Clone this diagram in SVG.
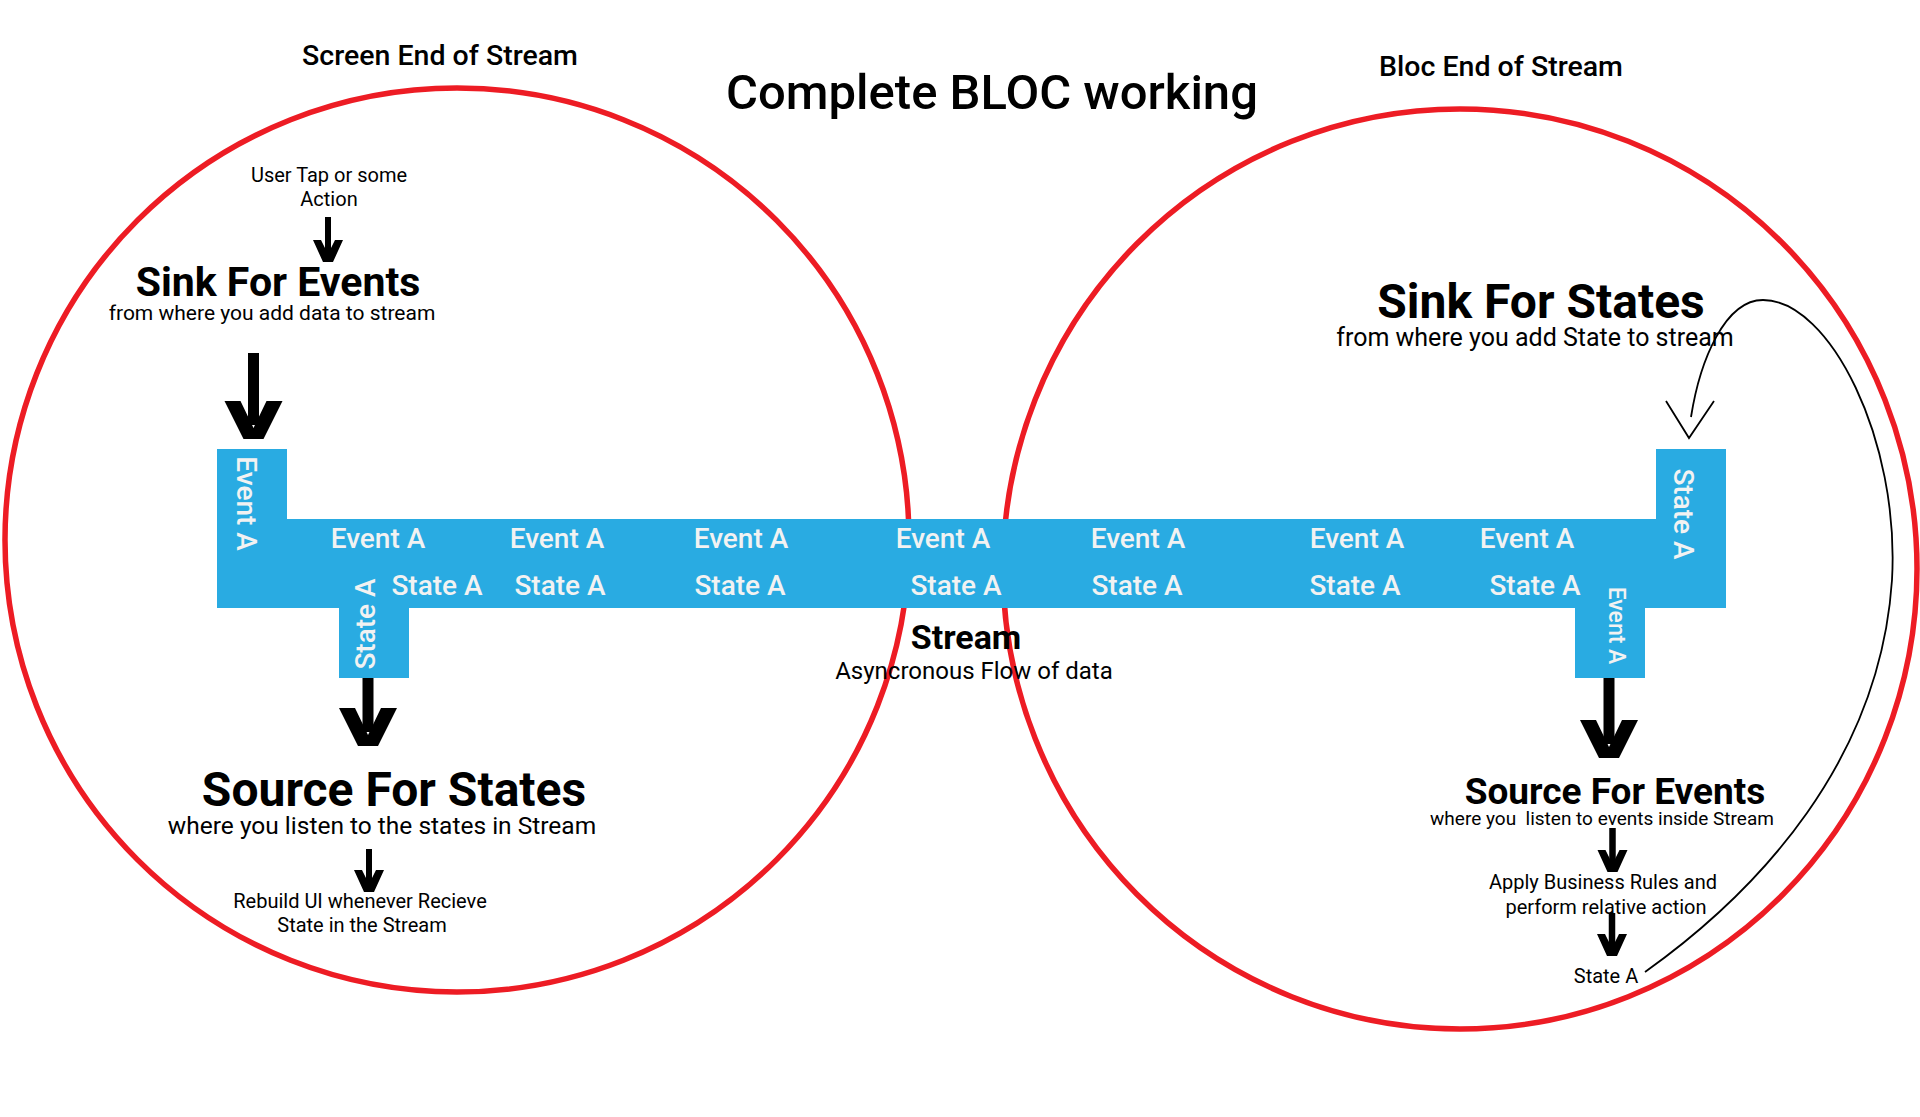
<svg xmlns="http://www.w3.org/2000/svg" xmlns:xlink="http://www.w3.org/1999/xlink" width="1920" height="1117" viewBox="0 0 1920 1117">
<style>
text { font-family: Roboto, "Liberation Sans", sans-serif; fill: #000; }
.bar { fill: #F2F2F2; font-size: 28px; font-weight: 500; text-anchor: middle; }
.ring { fill: none; stroke: #ED1C24; stroke-width: 5.5; }
.head { font-weight: 500; font-size: 28.5px; text-anchor: middle; }
.big { font-weight: 700; text-anchor: middle; }
.sub { font-weight: 400; text-anchor: middle; }
.shaft { stroke: #000; fill: none; }
.thin { stroke: #000; stroke-width: 1.8; fill: none; }
</style>
<defs>
<path id="hb" d="M-29,-38 H-13 L0,-11 L13,-38 H29 L10,0 H-10 Z" fill="#000"/>
<path id="hs" d="M-15,-22 H-7 L0,-8 L7,-22 H15 L5,0 H-5 Z" fill="#000"/>
</defs>
<rect width="1920" height="1117" fill="#fff"/>

<g id="screen-end">
<circle class="ring" cx="457" cy="540" r="452"/>
<text class="head" x="440" y="65">Screen End of Stream</text>
</g>

<g id="bloc-end">
<ellipse class="ring" cx="1460" cy="569" rx="457" ry="460"/>
<text class="head" x="1501" y="76">Bloc End of Stream</text>
</g>

<g id="title">
<text x="992" y="109" font-size="49" font-weight="500" text-anchor="middle">Complete BLOC working</text>
</g>

<g id="stream">
<path d="M217,449 H287 V519 H1656 V449 H1726 V608 H1645 V678 H1575 V608 H409 V678 H339 V608 H217 Z" fill="#29ABE2"/>
<text class="bar" x="378" y="548">Event A</text>
<text class="bar" x="557" y="548">Event A</text>
<text class="bar" x="741" y="548">Event A</text>
<text class="bar" x="943" y="548">Event A</text>
<text class="bar" x="1138" y="548">Event A</text>
<text class="bar" x="1357" y="548">Event A</text>
<text class="bar" x="1527" y="548">Event A</text>
<text class="bar" x="437" y="595">State A</text>
<text class="bar" x="560" y="595">State A</text>
<text class="bar" x="740" y="595">State A</text>
<text class="bar" x="956" y="595">State A</text>
<text class="bar" x="1137" y="595">State A</text>
<text class="bar" x="1355" y="595">State A</text>
<text class="bar" x="1535" y="595">State A</text>
<text class="bar" transform="translate(237,503.5) rotate(90)">Event A</text>
<text class="bar" transform="translate(375,624) rotate(-90)">State A</text>
<text class="bar" transform="translate(1674,514) rotate(90)">State A</text>
<text class="bar" style="font-size:23px" transform="translate(1609,625.5) rotate(90)">Event A</text>
<text class="big" x="966" y="649" font-size="34">Stream</text>
<text class="sub" x="974" y="679" font-size="24">Asyncronous Flow of data</text>
</g>

<g id="user-action">
<text class="sub" x="329" y="182" font-size="20">User Tap or some</text>
<text class="sub" x="329" y="206" font-size="20">Action</text>
</g>

<g id="sink-events">
<text class="big" x="278" y="296" font-size="41">Sink For Events</text>
<text class="sub" x="272" y="320" font-size="21">from where you add data to stream</text>
</g>

<g id="source-states">
<text class="big" x="394" y="806" font-size="48">Source For States</text>
<text class="sub" x="382" y="834" font-size="24.5">where you listen to the states in Stream</text>
</g>

<g id="rebuild-ui">
<text class="sub" x="360" y="908" font-size="20">Rebuild UI whenever Recieve</text>
<text class="sub" x="362" y="932" font-size="20">State in the Stream</text>
</g>

<g id="sink-states">
<text class="big" x="1541" y="318" font-size="48">Sink For States</text>
<text class="sub" x="1535" y="346" font-size="25">from where you add State to stream</text>
</g>

<g id="source-events">
<text class="big" x="1615" y="804" font-size="37">Source For Events</text>
<text class="sub" x="1602" y="825" font-size="19" xml:space="preserve">where you  listen to events inside Stream</text>
</g>

<g id="business-rules">
<text class="sub" x="1603" y="889" font-size="20">Apply Business Rules and</text>
<text class="sub" x="1606" y="914" font-size="20">perform relative action</text>
</g>

<g id="state-out">
<text class="sub" x="1606" y="983" font-size="20">State A</text>
</g>

<g id="connectors">
<line class="shaft" stroke-width="11" x1="253.5" y1="353" x2="253.5" y2="425"/>
<use xlink:href="#hb" href="#hb" x="253.5" y="439"/>
<line class="shaft" stroke-width="11" x1="368" y1="678" x2="368" y2="732"/>
<use xlink:href="#hb" href="#hb" x="368" y="746"/>
<line class="shaft" stroke-width="11" x1="1609" y1="678" x2="1609" y2="744"/>
<use xlink:href="#hb" href="#hb" x="1609" y="758"/>
<line class="shaft" stroke-width="6" x1="328" y1="217" x2="328" y2="254"/>
<use xlink:href="#hs" href="#hs" x="328" y="262"/>
<line class="shaft" stroke-width="6" x1="369" y1="849" x2="369" y2="884"/>
<use xlink:href="#hs" href="#hs" x="369" y="892"/>
<line class="shaft" stroke-width="6.5" x1="1612.5" y1="828" x2="1612.5" y2="864"/>
<use xlink:href="#hs" href="#hs" x="1612.5" y="872"/>
<line class="shaft" stroke-width="6.5" x1="1612" y1="913" x2="1612" y2="948"/>
<use xlink:href="#hs" href="#hs" x="1612" y="956"/>
<path class="thin" d="M1645,972 C1760,890 1880,760 1892,580 C1900,440 1830,300 1763,300 C1725,300 1700,360 1691,417"/>
<polyline class="thin" points="1666,401 1689,438 1714,401"/>
</g>
</svg>
